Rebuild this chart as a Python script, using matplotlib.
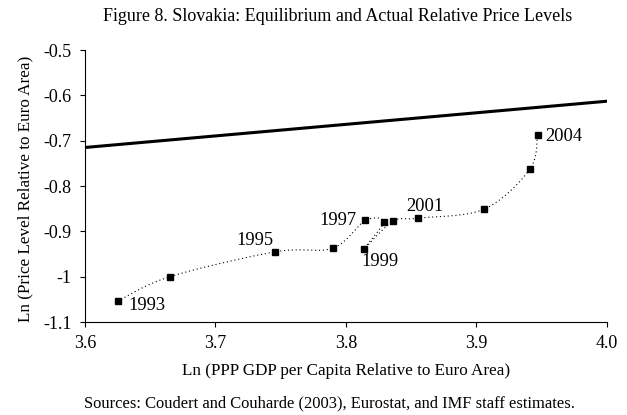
"""Slovakia: equilibrium and actual relative price levels."""

import matplotlib.pyplot as plt
import numpy as np
from matplotlib.ticker import FuncFormatter

plt.rcParams["font.family"] = ["Liberation Serif", "DejaVu Serif"]

years = [1993, 1994, 1995, 1996, 1997, 1998, 1999, 2000, 2001, 2002, 2003, 2004]
gdp = [3.625, 3.665, 3.746, 3.790, 3.815, 3.829, 3.814, 3.836, 3.855, 3.906, 3.941, 3.947]
price = [-1.054, -1.000, -0.945, -0.937, -0.876, -0.880, -0.938, -0.878, -0.871, -0.851, -0.763, -0.687]

# equilibrium line end points
eq_x = [3.6, 4.0]
eq_y = [-0.715, -0.613]

# year -> (dx, dy in points, alignment)
labelled = {1993: (7.4, -3, "left"), 1995: (-1.2, 8.2, "right"), 1997: (-6.7, 0, "right"),
            1999: (-2, -9.2, "left"), 2001: (-8.2, 8.5, "left"), 2004: (5.6, -1.2, "left")}


def smooth(xs, ys, n=20):
    """Catmull-Rom curve through the points (like Excel's smoothed line)."""
    p = np.column_stack([xs, ys])
    p = np.vstack([p[0], p, p[-1]])
    out = []
    for i in range(1, len(p) - 2):
        p0, p1, p2, p3 = p[i - 1], p[i], p[i + 1], p[i + 2]
        t = np.linspace(0, 1, n)[:, None]
        seg = 0.5 * ((2 * p1) + (-p0 + p2) * t + (2 * p0 - 5 * p1 + 4 * p2 - p3) * t ** 2
                     + (-p0 + 3 * p1 - 3 * p2 + p3) * t ** 3)
        out.append(seg)
    out = np.vstack(out)
    return out[:, 0], out[:, 1]


fig = plt.figure(figsize=(6.27, 4.15), dpi=100)
ax = fig.add_axes([0.1356, 0.224, 0.832, 0.6555])

sx, sy = smooth(gdp, price)
ax.plot(sx, sy, color="black", lw=0.8, ls=(0, (1, 2.5)))
ax.plot(gdp, price, ls="none", marker="s", ms=5, color="black")
ax.plot(eq_x, eq_y, color="black", lw=2.2)

for yr, x, y in zip(years, gdp, price):
    if yr in labelled:
        dx, dy, ha = labelled[yr]
        ax.annotate(str(yr), (x, y), xytext=(dx, dy), textcoords="offset points",
                    ha=ha, va="center", fontsize=13.3)

ax.set_xlim(3.6, 4.0)
ax.set_ylim(-1.1, -0.5)
ax.set_xticks([3.6, 3.7, 3.8, 3.9, 4.0])
ax.set_yticks([-1.1, -1.0, -0.9, -0.8, -0.7, -0.6, -0.5])
ax.xaxis.set_major_formatter(FuncFormatter(lambda v, _: f"{v:.1f}"))
ax.yaxis.set_major_formatter(FuncFormatter(lambda v, _: f"{v:g}"))
ax.tick_params(direction="out", length=3.5, width=0.8, labelsize=13, pad=6)
ax.spines["top"].set_visible(False)
ax.spines["right"].set_visible(False)

ax.set_xlabel("Ln (PPP GDP per Capita Relative to Euro Area)", fontsize=12.3, va="center")
ax.xaxis.set_label_coords(0.5, -0.18)
ax.set_ylabel("Ln (Price Level Relative to Euro Area)", fontsize=12.3, va="center")
ax.yaxis.set_label_coords(-0.115, 0.49)

fig.text(0.539, 0.960, "Figure 8. Slovakia: Equilibrium and Actual Relative Price Levels",
         ha="center", va="center", fontsize=13)
fig.text(0.525, 0.028, "Sources: Coudert and Couharde (2003), Eurostat, and IMF staff estimates.",
         ha="center", va="center", fontsize=11.9)

fig.savefig("out.png")
